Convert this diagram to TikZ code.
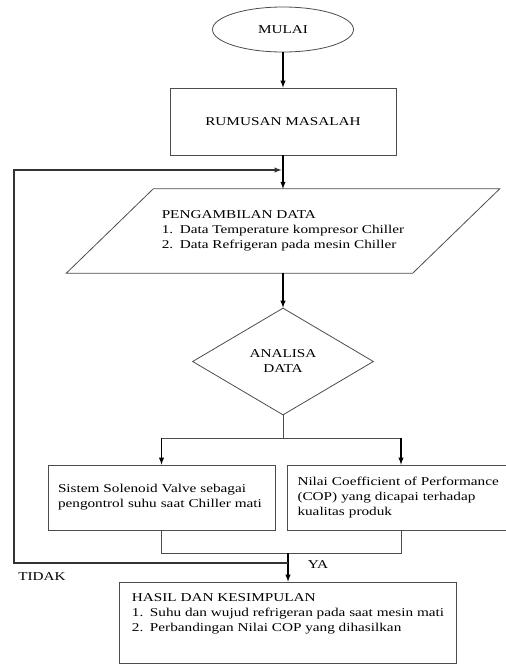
\documentclass[tikz,border=0pt]{standalone}
\usepackage{fontspec}
\setmainfont{Liberation Serif}[FakeStretch=1.27]
\usetikzlibrary{shapes.geometric}

\newcommand{\butir}[3][18pt]{\makebox[#1][l]{#2}#3}
\newcommand{\rata}[1]{\makebox[\hsize][s]{#1}}

\begin{document}
\begin{tikzpicture}[x = 1pt, y = -1pt, font = \fontsize{12}{15}\selectfont,
	garis/.style = {draw = black!70, line width = 0.8pt},
	panah/.style = {-latex, line width = 1.4pt},
	kotak/.style = {garis, rectangle, minimum width = 227pt, minimum height = 65pt, inner sep = 0pt}]
	\useasboundingbox (0,0) rectangle (506,664);
	\clip (0,0) rectangle (506,664);

	% simbol alur
	\node [ellipse, garis, minimum width = 141pt, minimum height = 45pt, inner sep = 0pt] (mulai) at (283,29.5) {MULAI};
	\node [kotak, minimum width = 226pt, minimum height = 67pt] (rumusan) at (283,121.5) {RUMUSAN MASALAH};
	\node [minimum width = 346pt, minimum height = 84pt, inner sep = 0pt, align = left] (ambil) at (283,231)
		{PENGAMBILAN DATA\\ \butir{1.}{Data Temperature kompresor Chiller}\\ \butir{2.}{Data Refrigeran pada mesin Chiller}};
	\draw [garis] ([xshift = 43.5pt]ambil.north west) -- ([xshift = 43.5pt]ambil.north east)
		-- ([xshift = -43.5pt]ambil.south east) -- ([xshift = -43.5pt]ambil.south west) -- cycle;
	\node [diamond, garis, minimum width = 181pt, minimum height = 107pt, inner sep = 0pt, align = center] (analisa) at (283,361.5) {ANALISA\\DATA};

	\node [kotak, text width = 207pt, align = left] (solenoid) at (161.5,497.5)
		{\rata{Sistem Solenoid Valve sebagai}\\ pengontrol suhu saat Chiller mati};
	\node [kotak, text width = 207pt, align = left] (cop) at (401,497.5)
		{\rata{Nilai Coefficient of Performance}\\ \rata{(COP) yang dicapai terhadap}\\ kualitas produk};

	\node [kotak, minimum width = 337pt, minimum height = 81pt, align = left] (hasil) at (288,622.5)
		{HASIL DAN KESIMPULAN\\ \butir{1.}{Suhu dan wujud refrigeran pada saat mesin mati}\\ \butir{2.}{Perbandingan Nilai COP yang dihasilkan}\\[4pt]};

	\node (ya) at (318,565) {YA};
	\node (tidak) at (42,577) {TIDAK};

	% garis penghubung
	\draw [panah] (mulai) -- (rumusan);
	\draw [panah] (rumusan) -- (ambil);
	\draw [panah] (ambil) -- (analisa);

	\coordinate (cabang) at (283,438);
	\draw [garis] (analisa.south) -- (cabang);
	\draw [garis] (cabang -| solenoid) -- (cabang -| cop);
	\draw [panah] (cabang -| solenoid) -- (solenoid);
	\draw [panah] (cabang -| cop) -- (cop);

	\coordinate (temu) at (288,553);
	\draw [garis] (solenoid.south) -- (temu -| solenoid) -- (temu -| cop) -- (cop.south);
	\draw [panah] (temu) -- (hasil);

	\coordinate (kiri) at (14,563);
	\coordinate (atas) at (281.5,170);
	\draw [panah, black!80] (temu |- kiri) -- (kiri) |- (atas);
\end{tikzpicture}
\end{document}
